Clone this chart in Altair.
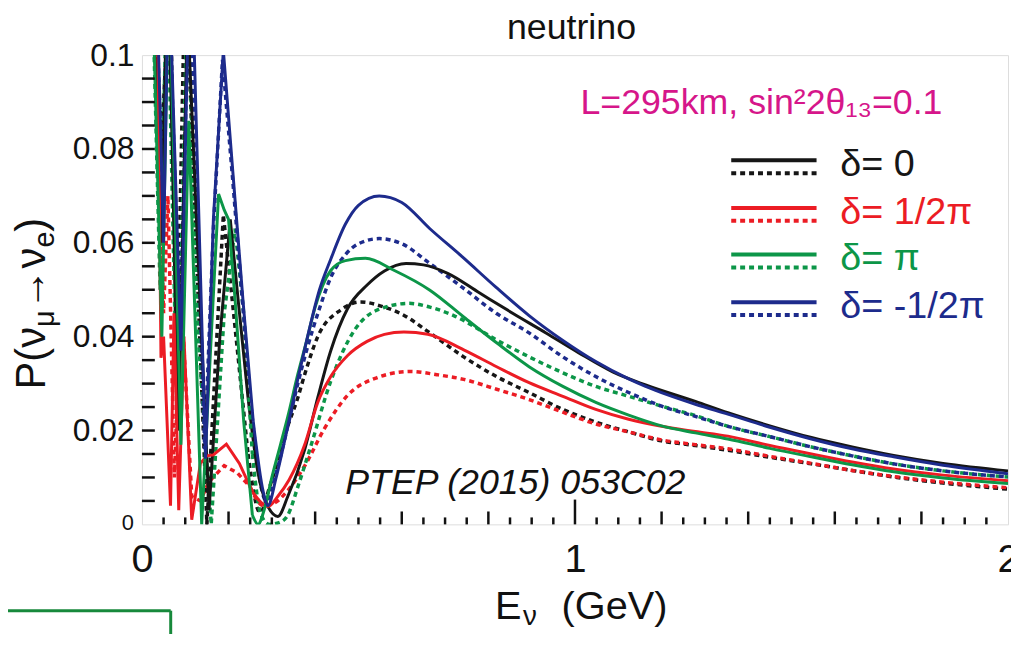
import altair as alt
import pandas as pd

FONT = "Liberation Sans"

SERIES = ["d0", "d90", "d180", "d270"]
COLORS = ["#161616", "#ec1c24", "#0c9648", "#1d2b8c"]
LEGEND_LABELS = ["δ= 0", "δ= 1/2π", "δ= π", "δ= -1/2π"]

# ---- delta = 0 ----
B0_E = [0.020, 0.045, 0.060, 0.085, 0.105, 0.155, 0.180, 0.204, 0.222, 0.245, 0.268, 0.290, 0.314, 0.337,
        0.376, 0.406, 0.436, 0.475, 0.520, 0.560, 0.610, 0.650, 0.706, 0.780, 0.856, 0.933, 1.008, 1.087,
        1.163, 1.278, 1.353, 1.450, 1.546, 1.640, 1.736, 1.850, 2.000]
B0_P = [0.130, 0.060, 0.120, 0.020, 0.110, 0.003, 0.040, 0.065, 0.048, 0.027, 0.011, 0.004, 0.0017, 0.006,
        0.016, 0.027, 0.037, 0.046, 0.051, 0.054, 0.0556, 0.0553, 0.0535, 0.0493, 0.0450, 0.0408, 0.0366, 0.0325,
        0.0297, 0.0262, 0.0238, 0.0210, 0.0185, 0.0165, 0.0147, 0.0130, 0.0114]
B1_E = [0.020, 0.045, 0.065, 0.080, 0.100, 0.150, 0.188, 0.215, 0.245, 0.273, 0.295, 0.337, 0.360, 0.376,
        0.406, 0.459, 0.505, 0.560, 0.600, 0.665, 0.743, 0.819, 0.894, 0.972, 1.048, 1.124, 1.200, 1.278,
        1.353, 1.450, 1.546, 1.640, 1.736, 1.850, 2.000]
B1_P = [0.130, 0.080, 0.120, 0.030, 0.120, 0.000, 0.066, 0.042, 0.015, 0.0025, 0.008, 0.021, 0.027, 0.032,
        0.040, 0.0457, 0.0474, 0.0463, 0.0448, 0.0408, 0.0357, 0.0315, 0.0281, 0.0245, 0.0218, 0.0197, 0.0178, 0.0168,
        0.0158, 0.0143, 0.0129, 0.0115, 0.0101, 0.0088, 0.0075]

# ---- delta = pi/2 ----
R0_E = [0.025, 0.037, 0.044, 0.050, 0.066, 0.074, 0.085, 0.097, 0.115, 0.135, 0.150, 0.165, 0.195, 0.225,
        0.255, 0.291, 0.314, 0.340, 0.376, 0.406, 0.436, 0.475, 0.520, 0.560, 0.605, 0.660, 0.743, 0.819,
        0.894, 0.972, 1.048, 1.124, 1.200, 1.278, 1.353, 1.450, 1.546, 1.640, 1.736, 1.850, 2.000]
R0_P = [0.130, 0.100, 0.0355, 0.040, 0.004, 0.045, 0.003, 0.040, 0.001, 0.013, 0.0146, 0.0148, 0.0171, 0.013,
        0.007, 0.0038, 0.0060, 0.0095, 0.017, 0.026, 0.0315, 0.0360, 0.0390, 0.0405, 0.0410, 0.0405, 0.0372, 0.0336,
        0.0302, 0.0273, 0.0245, 0.0224, 0.0209, 0.0198, 0.0188, 0.0168, 0.0150, 0.0133, 0.0118, 0.0105, 0.0093]
R1_E = [0.030, 0.050, 0.060, 0.075, 0.090, 0.115, 0.135, 0.154, 0.190, 0.220, 0.250, 0.280, 0.305, 0.330,
        0.376, 0.422, 0.475, 0.544, 0.620, 0.681, 0.743, 0.819, 0.894, 0.972, 1.048, 1.124, 1.200, 1.278,
        1.353, 1.450, 1.546, 1.640, 1.736, 1.850, 2.000]
R1_P = [0.120, 0.045, 0.070, 0.010, 0.050, 0.006, 0.005, 0.009, 0.0125, 0.011, 0.008, 0.004, 0.0045, 0.0065,
        0.0125, 0.0205, 0.0275, 0.0313, 0.0326, 0.0319, 0.0309, 0.0288, 0.0266, 0.0239, 0.0214, 0.0197, 0.0180, 0.0170,
        0.0161, 0.0145, 0.0130, 0.0115, 0.0102, 0.0090, 0.0078]

# ---- delta = pi ----
G0_E = [0.020, 0.046, 0.062, 0.090, 0.108, 0.138, 0.160, 0.177, 0.190, 0.200, 0.215, 0.235, 0.255, 0.268,
        0.282, 0.300, 0.320, 0.337, 0.360, 0.380, 0.400, 0.436, 0.470, 0.516, 0.583, 0.665, 0.743, 0.819,
        0.894, 0.972, 1.048, 1.124, 1.200, 1.278, 1.353, 1.450, 1.546, 1.640, 1.736, 1.850, 2.000]
G0_P = [0.130, 0.040, 0.120, 0.017, 0.086, 0.000, 0.040, 0.0704, 0.067, 0.065, 0.048, 0.022, 0.002, 0.000,
        0.003, 0.010, 0.017, 0.023, 0.032, 0.039, 0.0463, 0.0541, 0.0562, 0.0567, 0.0541, 0.0499, 0.0442, 0.0387,
        0.0336, 0.0294, 0.0260, 0.0233, 0.0210, 0.0195, 0.0182, 0.0162, 0.0144, 0.0127, 0.0112, 0.0099, 0.0087]
G1_E = [0.020, 0.042, 0.058, 0.082, 0.105, 0.130, 0.160, 0.190, 0.215, 0.235, 0.255, 0.275, 0.295, 0.320,
        0.337, 0.360, 0.390, 0.436, 0.491, 0.544, 0.617, 0.665, 0.720, 0.819, 0.894, 0.972, 1.048, 1.124,
        1.200, 1.278, 1.353, 1.450, 1.546, 1.640, 1.736, 1.850, 2.000]
G1_P = [0.130, 0.050, 0.120, 0.020, 0.115, 0.040, 0.000, 0.045, 0.063, 0.045, 0.015, 0.002, 0.000, 0.0005,
        0.002, 0.008, 0.0167, 0.0305, 0.0414, 0.0457, 0.0471, 0.0463, 0.0445, 0.0393, 0.0357, 0.0323, 0.0294, 0.0273,
        0.0252, 0.0232, 0.0209, 0.0187, 0.0165, 0.0146, 0.0129, 0.0114, 0.0101]

# ---- delta = -pi/2 ----
U0_E = [0.030, 0.050, 0.062, 0.090, 0.112, 0.147, 0.165, 0.188, 0.210, 0.234, 0.257, 0.280, 0.291, 0.310,
        0.337, 0.360, 0.380, 0.410, 0.436, 0.470, 0.500, 0.548, 0.600, 0.665, 0.740, 0.818, 0.894, 0.972,
        1.048, 1.124, 1.163, 1.278, 1.353, 1.450, 1.546, 1.640, 1.736, 1.850, 2.000]
U0_P = [0.130, 0.060, 0.120, 0.037, 0.130, 0.014, 0.065, 0.101, 0.075, 0.047, 0.022, 0.007, 0.004, 0.010,
        0.021, 0.031, 0.039, 0.050, 0.0565, 0.0640, 0.0680, 0.0700, 0.0686, 0.0630, 0.0570, 0.0505, 0.0445, 0.0392,
        0.0347, 0.0310, 0.0294, 0.0256, 0.0235, 0.0207, 0.0182, 0.0161, 0.0144, 0.0126, 0.0108]
U1_E = [0.030, 0.048, 0.060, 0.088, 0.110, 0.145, 0.165, 0.186, 0.210, 0.250, 0.287, 0.310, 0.337, 0.360,
        0.380, 0.410, 0.436, 0.470, 0.500, 0.548, 0.600, 0.665, 0.740, 0.818, 0.894, 0.972, 1.048, 1.124,
        1.200, 1.278, 1.353, 1.450, 1.546, 1.640, 1.736, 1.850, 2.000]
U1_P = [0.120, 0.070, 0.120, 0.040, 0.120, 0.016, 0.063, 0.099, 0.073, 0.027, 0.005, 0.011, 0.021, 0.030,
        0.037, 0.046, 0.0526, 0.0575, 0.0598, 0.0609, 0.0598, 0.0556, 0.0505, 0.0450, 0.0408, 0.0357, 0.0315, 0.0281,
        0.0252, 0.0230, 0.0209, 0.0187, 0.0165, 0.0146, 0.0129, 0.0114, 0.0101]

Y_LABELS = [0, 0.02, 0.04, 0.06, 0.08, 0.1]
X_LABELS = [0, 1, 2]
Y_MINOR = [round(0.005 * i, 3) for i in range(1, 20)]
X_MINOR = [0.05, 0.1, 0.15, 0.25, 0.3, 0.35, 0.45, 0.5, 0.55, 0.65, 0.7, 0.75, 0.85, 0.9, 0.95,
           1.05, 1.1, 1.15, 1.25, 1.3, 1.35, 1.45, 1.5, 1.55, 1.65, 1.7, 1.75, 1.85, 1.9, 1.95]
X_MID = [0.2, 0.4, 0.6, 0.8, 1.2, 1.4, 1.6, 1.8]
X_MAJOR = [1.0]

SPLIT_E = 0.24  # oscillating part drawn with straight segments, the rest smooth


def parts(E, P, name):
    i = next(k for k, e in enumerate(E) if e >= SPLIT_E)
    lo = pd.DataFrame({"E": E[:i + 1], "P": P[:i + 1], "series": name})
    hi = pd.DataFrame({"E": E[i:], "P": P[i:], "series": name})
    return lo, hi


def build(pairs):
    los, his = [], []
    for E, P, name in pairs:
        lo, hi = parts(E, P, name)
        los.append(lo)
        his.append(hi)
    return pd.concat(los), pd.concat(his)


solid_lo, solid_hi = build([(B0_E, B0_P, "d0"), (R0_E, R0_P, "d90"),
                            (G0_E, G0_P, "d180"), (U0_E, U0_P, "d270")])
dashed_lo, dashed_hi = build([(B1_E, B1_P, "d0"), (R1_E, R1_P, "d90"),
                              (G1_E, G1_P, "d180"), (U1_E, U1_P, "d270")])

W, H = 873, 473
xs = alt.Scale(domain=[0, 2], nice=False, zero=False)
ys = alt.Scale(domain=[0, 0.1], nice=False)
color = alt.Color("series:N", scale=alt.Scale(domain=SERIES, range=COLORS), legend=None)

xaxis = alt.Axis(values=X_LABELS, format="~g", labelFontSize=40, labelFont=FONT, labelColor="#111",
                 ticks=False, domain=False, grid=False, labelPadding=48, labelBaseline="alphabetic",
                 labelFlush=False, labelOverlap=False, title=None)
yaxis = alt.Axis(values=Y_LABELS, format=".2~f", labelExpr="datum.value == 0 ? '' : datum.label",
                 labelFontSize=32, labelFont=FONT, labelColor="#111", ticks=False, domain=False,
                 grid=False, labelPadding=8, labelOverlap=False, title=None)

X = alt.X("E:Q", scale=xs, axis=xaxis)
Y = alt.Y("P:Q", scale=ys, axis=yaxis)


def curve(df, interp, dashed):
    kw = dict(clip=True, interpolate=interp)
    if dashed:
        kw.update(strokeWidth=3.5, strokeDash=[5, 4])
    else:
        kw.update(strokeWidth=3)
    return alt.Chart(df).mark_line(**kw).encode(x=X, y=Y, color=color, detail="series:N")


yticks = alt.Chart(pd.DataFrame({"P": Y_MINOR})).mark_rule(color="#111", strokeWidth=2.5).encode(
    y=Y, x=alt.value(0), x2=alt.value(13))


def xtick(vals, length):
    return alt.Chart(pd.DataFrame({"E": vals})).mark_rule(color="#111", strokeWidth=2.5).encode(
        x=X, y=alt.value(H), y2=alt.value(H - length))


def label(text, x, y, size, color="#111", angle=0, align="left", style="normal"):
    return alt.Chart(pd.DataFrame({"t": [text]})).mark_text(
        align=align, baseline="alphabetic", fontSize=size, color=color, angle=angle,
        fontStyle=style, font=FONT).encode(x=alt.value(x), y=alt.value(y), text="t:N")


def seg(x1, x2, y, col, dash=None, width=4):
    kw = dict(color=col, strokeWidth=width)
    if dash:
        kw["strokeDash"] = dash
    return alt.Chart(pd.DataFrame({"a": [0]})).mark_rule(**kw).encode(
        x=alt.value(x1), x2=alt.value(x2), y=alt.value(y))


def vseg(x, y1, y2, col, width=3):
    return alt.Chart(pd.DataFrame({"a": [0]})).mark_rule(color=col, strokeWidth=width).encode(
        x=alt.value(x), y=alt.value(y1), y2=alt.value(y2))


layers = [curve(dashed_hi, "monotone", True), curve(solid_hi, "monotone", False),
          curve(dashed_lo, "linear", True), curve(solid_lo, "linear", False),
          yticks, xtick(X_MINOR, 7), xtick(X_MID, 13), xtick(X_MAJOR, 25)]

# legend
row_base = [122, 170, 217, 265]
for lab, col, yb in zip(LEGEND_LABELS, COLORS, row_base):
    layers.append(seg(594, 680, yb - 16, col))
    layers.append(seg(594, 680, yb - 3, col, dash=[5, 4]))
    layers.append(label(lab, 704, yb, 38, color=col))

# texts
layers.append(label("neutrino", 433, -16, 36, align="center"))
layers.append(label("L=295km, sin²2θ₁₃=0.1", 442, 59, 36, color="#d6168a"))
layers.append(label("PTEP (2015) 053C02", 205, 442, 36, style="italic"))
layers.append(label("0", -8, 479, 22, align="right"))
# x title  E_nu (GeV)
layers.append(label("E", 356, 568, 40))
layers.append(label("ν", 384, 574, 28))
layers.append(label("(GeV)", 423, 568, 40))
# y title  P(nu_mu -> nu_e)
layers.append(label("P(ν", -98, 337, 42, angle=270))
layers.append(label("μ", -89, 274, 29, angle=270))
layers.append(label("→ν", -98, 257, 42, angle=270))
layers.append(label("e", -89, 194, 29, angle=270))
layers.append(label(")", -98, 178, 42, angle=270))
# green box fragment at bottom-left
layers.append(seg(-143, 29, 560, "#17893b", width=3))
layers.append(vseg(29, 560, 620, "#17893b"))

chart = alt.layer(*layers).properties(
    width=W, height=H,
    padding={"left": 135, "top": 45, "right": 3, "bottom": 108},
    autosize=alt.AutoSizeParams(type="none"),
).configure_view(stroke="#111", strokeWidth=2.5).configure(font=FONT)

chart.save("out.html", embed_options={"renderer": "svg", "actions": False})
